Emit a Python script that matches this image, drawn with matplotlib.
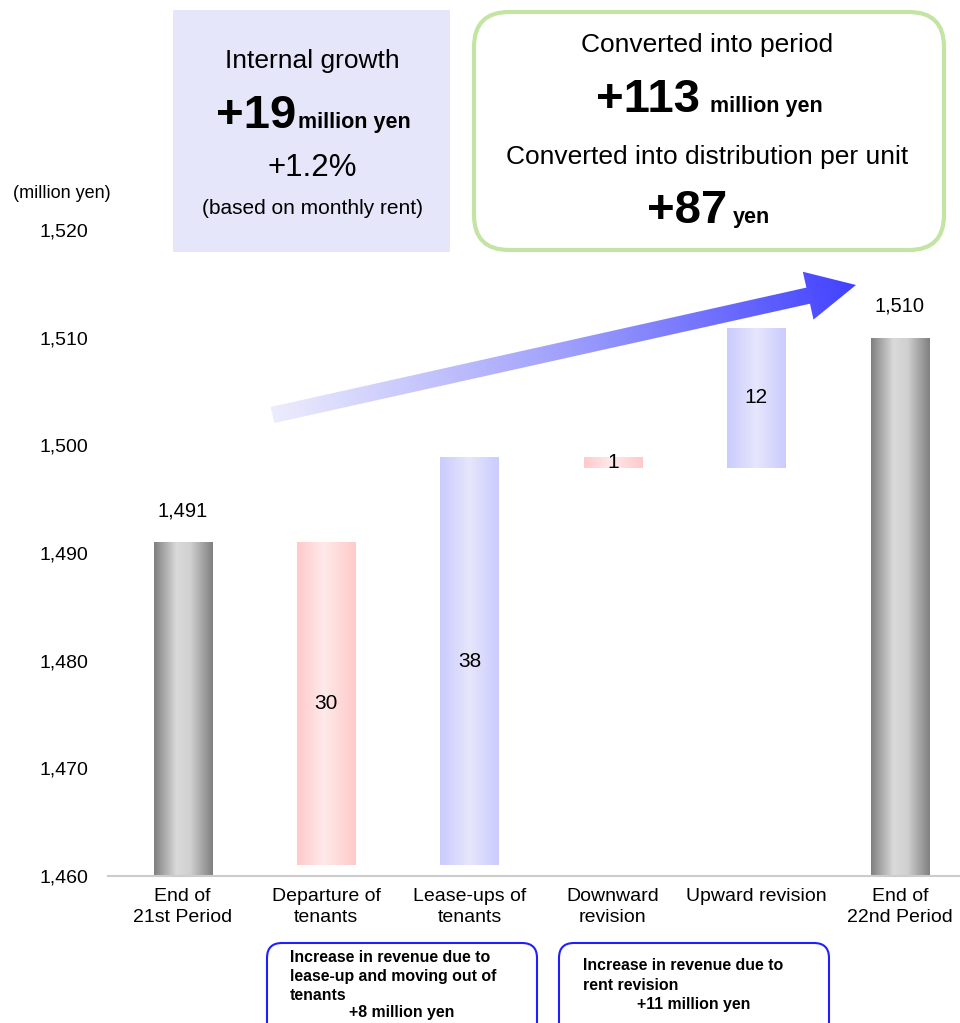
import numpy as np
import matplotlib
matplotlib.use("Agg")
import matplotlib.pyplot as plt
from matplotlib.colors import LinearSegmentedColormap
from matplotlib.patches import Rectangle, FancyBboxPatch, FancyArrow

plt.rcParams['font.family'] = ['Liberation Sans', 'DejaVu Sans']

# data
categories = ["End of\n21st Period", "Departure of\ntenants", "Lease-ups of\ntenants",
              "Downward\nrevision", "Upward revision", "End of\n22nd Period"]
bottoms = [1460, 1461, 1461, 1497.9, 1497.9, 1460]
tops = [1491, 1491, 1498.9, 1498.9, 1510.9, 1510]
value_labels = ["1,491", "30", "38", "1", "12", "1,510"]
kinds = ["total", "down", "up", "down", "up", "total"]
yticks = [1460, 1470, 1480, 1490, 1500, 1510, 1520]

gradients = {
    "total": [(0, '#7f7f7f'), (0.38, '#dadada'), (0.62, '#d0d0d0'), (1, '#7f7f7f')],
    "down": [(0, '#ffc9c9'), (0.45, '#ffe9e9'), (1, '#ffc9c9')],
    "up": [(0, '#cbcbff'), (0.5, '#e6e6fc'), (1, '#cbcbff')],
}

W, H = 960, 1023
fig = plt.figure(figsize=(W / 100, H / 100), dpi=100)

ax_left = 108
ax = fig.add_axes([ax_left / W, (H - 876) / H, 1 - ax_left / W, (876 - 230) / H])

x = np.arange(len(categories))
heights = [t - b for t, b in zip(tops, bottoms)]
bars = ax.bar(x, heights, bottom=bottoms, width=0.405, color='none', edgecolor='none')

grad = np.linspace(0, 1, 256).reshape(1, -1)
for bar, kind in zip(bars, kinds):
    cmap = LinearSegmentedColormap.from_list(kind, gradients[kind])
    x0, y0 = bar.get_x(), bar.get_y()
    im = ax.imshow(grad, cmap=cmap, aspect='auto', origin='lower', zorder=2,
                   extent=(x0, x0 + bar.get_width(), y0, y0 + bar.get_height()))
    im.set_clip_path(bar)

for xi, b, t, lab, kind in zip(x, bottoms, tops, value_labels, kinds):
    if kind == "total":
        ax.annotate(lab, (xi, t), xytext=(0, 16), textcoords='offset points',
                    ha='center', va='bottom', fontsize=14.5)
    else:
        ax.text(xi, (b + t) / 2, lab, ha='center', va='center', fontsize=15, zorder=3)

ax.set_xlim(-0.52, 5.42)
ax.set_ylim(1460, 1520)
ax.set_yticks(yticks)
ax.set_yticklabels([f"{v:,}" for v in yticks])
ax.set_xticks(x)
ax.set_xticklabels(categories, fontsize=14, linespacing=1.3)
ax.tick_params(axis='y', length=0, pad=(ax_left - 88) * 0.72, labelsize=14)
ax.tick_params(axis='x', length=0, pad=8.5)
for s in ['top', 'right', 'left']:
    ax.spines[s].set_visible(False)
ax.spines['bottom'].set_color('#cccccc')
ax.spines['bottom'].set_linewidth(1.5)
ax.set_facecolor('none')

# overlay in pixel coordinates for the callout boxes and the arrow
ov = fig.add_axes([0, 0, 1, 1])
ov.set_xlim(0, W)
ov.set_ylim(H, 0)
ov.axis('off')
ov.patch.set_visible(False)

ov.text(62, 193, "(million yen)", ha='center', va='center', fontsize=13)

# internal growth box
ov.add_patch(Rectangle((173, 10), 277, 242, facecolor='#e6e6fa', edgecolor='none'))
ov.text(312, 61, "Internal growth", ha='center', va='center', fontsize=19)
ov.text(296, 128, "+19", ha='right', va='baseline', fontsize=34, weight='bold')
ov.text(298, 128, "million yen", ha='left', va='baseline', fontsize=15.5, weight='bold')
ov.text(312, 168, "+1.2%", ha='center', va='center', fontsize=22.5)
ov.text(312, 209, "(based on monthly rent)", ha='center', va='center', fontsize=15)

# converted box
ov.add_patch(FancyBboxPatch((474, 12), 470, 238, boxstyle="round,pad=0,rounding_size=35",
                            facecolor='white', edgecolor='#c4e4a4', linewidth=3))
ov.text(707, 45, "Converted into period", ha='center', va='center', fontsize=19)
ov.text(700, 112, "+113", ha='right', va='baseline', fontsize=34, weight='bold')
ov.text(710, 112, "million yen", ha='left', va='baseline', fontsize=15.5, weight='bold')
ov.text(707, 157, "Converted into distribution per unit", ha='center', va='center', fontsize=19)
ov.text(727, 223, "+87", ha='right', va='baseline', fontsize=34, weight='bold')
ov.text(733, 223, "yen", ha='left', va='baseline', fontsize=15.5, weight='bold')

# gradient arrow
tail = np.array([272.5, 415.0])
tip = np.array([856.0, 285.0])
arrow = FancyArrow(tail[0], tail[1], tip[0] - tail[0], tip[1] - tail[1], width=16.5,
                   head_width=49, head_length=49, length_includes_head=True,
                   facecolor='none', edgecolor='none')
ov.add_patch(arrow)
gx = np.linspace(255, 870, 300)
gy = np.linspace(260, 440, 120)
GX, GY = np.meshgrid(gx, gy)
d = tip - tail
t = ((GX - tail[0]) * d[0] + (GY - tail[1]) * d[1]) / (d @ d)
t = np.clip(t, 0, 1)
arrow_cmap = LinearSegmentedColormap.from_list('arr', ['#ececfd', '#a0a0fc', '#4242ff'])
aim = ov.imshow(t, cmap=arrow_cmap, vmin=0, vmax=1, origin='upper', aspect='auto',
                extent=(gx[0], gx[-1], gy[-1], gy[0]), zorder=3)
aim.set_clip_path(arrow)

# bottom note boxes
ov.add_patch(FancyBboxPatch((267, 943), 270, 100, boxstyle="round,pad=0,rounding_size=15",
                            facecolor='white', edgecolor='#1f1fff', linewidth=1.5))
ov.add_patch(FancyBboxPatch((559, 943), 270, 100, boxstyle="round,pad=0,rounding_size=15",
                            facecolor='white', edgecolor='#1f1fff', linewidth=1.5))
note1 = ["Increase in revenue due to", "lease-up and moving out of", "tenants"]
for i, line in enumerate(note1):
    ov.text(290, 957 + 19 * i, line, ha='left', va='center', fontsize=11.4, weight='bold')
ov.text(402, 1013, "+8 million yen", ha='center', va='center', fontsize=11.4, weight='bold')
note2 = ["Increase in revenue due to", "rent revision"]
for i, line in enumerate(note2):
    ov.text(583, 966 + 19 * i, line, ha='left', va='center', fontsize=11.4, weight='bold')
ov.text(694, 1004, "+11 million yen", ha='center', va='center', fontsize=11.4, weight='bold')

ov.set_xlim(0, W)
ov.set_ylim(H, 0)

fig.savefig("out.png", dpi=100)
